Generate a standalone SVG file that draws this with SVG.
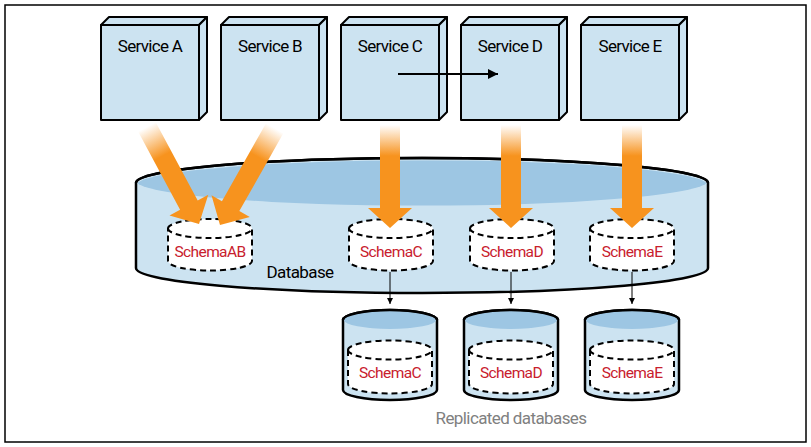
<svg xmlns="http://www.w3.org/2000/svg" width="811" height="447" viewBox="0 0 811 447">
<style>
.face{fill:#cce3f1;stroke:#000;stroke-width:2;stroke-linejoin:round}
.svc{font-family:Roboto,"Liberation Sans",Arial,sans-serif;font-size:17px;fill:#000;text-anchor:middle;letter-spacing:-0.7px}
.schema{font-family:Roboto,"Liberation Sans",Arial,sans-serif;font-size:15.5px;fill:#c8202d;text-anchor:middle;letter-spacing:-0.6px}
.lbl{font-family:Roboto,"Liberation Sans",Arial,sans-serif;font-size:17px;text-anchor:middle;letter-spacing:-0.6px}
.dash{fill:#fff;stroke:#000;stroke-width:2;stroke-dasharray:6 4}
.dashl{fill:none;stroke:#000;stroke-width:2;stroke-dasharray:6 4}
.side{fill:#cce3f1;stroke:#000;stroke-width:2.5}
.top{fill:#9dc6e3}
.oarrow{fill:url(#og)}
.thin{stroke:#000;stroke-width:1;fill:none}
</style>
<defs>
<linearGradient id="og" x1="0" y1="0" x2="0" y2="1">
<stop offset="0" stop-color="#f7931e" stop-opacity="0"/>
<stop offset="0.3" stop-color="#f7931e" stop-opacity="1"/>
<stop offset="1" stop-color="#f7931e" stop-opacity="1"/>
</linearGradient>
<marker id="sm" markerWidth="8" markerHeight="8" refX="6" refY="3" orient="auto" markerUnits="userSpaceOnUse">
<path d="M0,0 L6,3 L0,6 Z" fill="#000"/>
</marker>
<marker id="bm" markerWidth="12" markerHeight="12" refX="10" refY="5" orient="auto" markerUnits="userSpaceOnUse">
<path d="M0,0 L10,5 L0,10 Z" fill="#000"/>
</marker>
<path id="varrow" d="M-10,-103 L10,-103 L10,-20 L22,-20 L0,0 L-22,-20 L-10,-20 Z"/>
</defs>
<rect x="5" y="5" width="801" height="437" fill="#fff" stroke="#000" stroke-width="1.5"/>

<g id="svcA">
<polygon class="face" points="101,25 109,17 207,17 199,25"/>
<polygon class="face" points="199,25 207,17 207,112 199,120"/>
<rect class="face" x="101" y="25" width="98" height="95"/>
<text class="svc" x="150" y="52">Service A</text>
</g>
<g id="svcB">
<polygon class="face" points="221,25 229,17 327,17 319,25"/>
<polygon class="face" points="319,25 327,17 327,112 319,120"/>
<rect class="face" x="221" y="25" width="98" height="95"/>
<text class="svc" x="270" y="52">Service B</text>
</g>
<g id="svcC">
<polygon class="face" points="341,25 349,17 447,17 439,25"/>
<polygon class="face" points="439,25 447,17 447,112 439,120"/>
<rect class="face" x="341" y="25" width="98" height="95"/>
<text class="svc" x="390" y="52">Service C</text>
</g>
<g id="svcD">
<polygon class="face" points="461,25 469,17 567,17 559,25"/>
<polygon class="face" points="559,25 567,17 567,112 559,120"/>
<rect class="face" x="461" y="25" width="98" height="95"/>
<text class="svc" x="510" y="52">Service D</text>
</g>
<g id="svcE">
<polygon class="face" points="581,25 589,17 687,17 679,25"/>
<polygon class="face" points="679,25 687,17 687,112 679,120"/>
<rect class="face" x="581" y="25" width="98" height="95"/>
<text class="svc" x="630" y="52">Service E</text>
</g>

<g id="database">
<path class="side" d="M136,183 A286,25 0 0 1 708,183 L708,268 A286,25 0 0 1 136,268 Z"/>
<path class="top" d="M137.3,183 A286,25 0 0 1 706.7,183 A286,25 0 0 1 137.3,183 Z"/>
<path d="M136,183 A286,25 0 0 1 708,183" fill="none" stroke="#000" stroke-width="2.5"/>
<text class="lbl" x="300" y="278" fill="#000">Database</text>
</g>

<g id="schemaAB">
<path class="dash" d="M168,228.5 A42,9.5 0 0 1 252,228.5 L252,261 A42,9.5 0 0 1 168,261 Z"/>
<path class="dashl" d="M168,228.5 A42,9.5 0 0 0 252,228.5"/>
<text class="schema" x="210" y="257">SchemaAB</text>
</g>
<g id="schemaC">
<path class="dash" d="M349,228.5 A42,9.5 0 0 1 433,228.5 L433,261 A42,9.5 0 0 1 349,261 Z"/>
<path class="dashl" d="M349,228.5 A42,9.5 0 0 0 433,228.5"/>
<text class="schema" x="391" y="257">SchemaC</text>
</g>
<g id="schemaD">
<path class="dash" d="M470,228.5 A42,9.5 0 0 1 554,228.5 L554,261 A42,9.5 0 0 1 470,261 Z"/>
<path class="dashl" d="M470,228.5 A42,9.5 0 0 0 554,228.5"/>
<text class="schema" x="512" y="257">SchemaD</text>
</g>
<g id="schemaE">
<path class="dash" d="M590,228.5 A42,9.5 0 0 1 674,228.5 L674,261 A42,9.5 0 0 1 590,261 Z"/>
<path class="dashl" d="M590,228.5 A42,9.5 0 0 0 674,228.5"/>
<text class="schema" x="632" y="257">SchemaE</text>
</g>

<g id="replC">
<path class="side" d="M343,320 A47,10 0 0 1 437,320 L437,390 A47,10 0 0 1 343,390 Z"/>
<ellipse class="top" cx="390" cy="320" rx="46" ry="9"/>
<path d="M343,320 A47,10 0 0 1 437,320" fill="none" stroke="#000" stroke-width="2.5"/>
<path class="dash" d="M348,350 A42,9.5 0 0 1 432,350 L432,384 A42,9.5 0 0 1 348,384 Z"/>
<path class="dashl" d="M348,350 A42,9.5 0 0 0 432,350"/>
<text class="schema" x="390" y="378">SchemaC</text>
</g>
<g id="replD">
<path class="side" d="M464,320 A47,10 0 0 1 558,320 L558,390 A47,10 0 0 1 464,390 Z"/>
<ellipse class="top" cx="511" cy="320" rx="46" ry="9"/>
<path d="M464,320 A47,10 0 0 1 558,320" fill="none" stroke="#000" stroke-width="2.5"/>
<path class="dash" d="M469,350 A42,9.5 0 0 1 553,350 L553,384 A42,9.5 0 0 1 469,384 Z"/>
<path class="dashl" d="M469,350 A42,9.5 0 0 0 553,350"/>
<text class="schema" x="511" y="378">SchemaD</text>
</g>
<g id="replE">
<path class="side" d="M585,320 A47,10 0 0 1 679,320 L679,390 A47,10 0 0 1 585,390 Z"/>
<ellipse class="top" cx="632" cy="320" rx="46" ry="9"/>
<path d="M585,320 A47,10 0 0 1 679,320" fill="none" stroke="#000" stroke-width="2.5"/>
<path class="dash" d="M590,350 A42,9.5 0 0 1 674,350 L674,384 A42,9.5 0 0 1 590,384 Z"/>
<path class="dashl" d="M590,350 A42,9.5 0 0 0 674,350"/>
<text class="schema" x="632" y="378">SchemaE</text>
</g>

<text class="lbl" x="511" y="424" fill="#808080">Replicated databases</text>

<g id="connectors">
<use href="#varrow" class="oarrow" transform="translate(199,224) rotate(-28.2) scale(1,1.07)"/>
<use href="#varrow" class="oarrow" transform="translate(220,225) rotate(29.5) scale(1,1.08)"/>
<use href="#varrow" class="oarrow" transform="translate(390,228)"/>
<use href="#varrow" class="oarrow" transform="translate(511,228)"/>
<use href="#varrow" class="oarrow" transform="translate(632,228)"/>
<line x1="398" y1="74" x2="498" y2="74" stroke="#000" stroke-width="2" marker-end="url(#bm)"/>
<line class="thin" x1="390" y1="272" x2="390" y2="304" marker-end="url(#sm)"/>
<line class="thin" x1="511" y1="272" x2="511" y2="304" marker-end="url(#sm)"/>
<line class="thin" x1="632" y1="272" x2="632" y2="304" marker-end="url(#sm)"/>
</g>
</svg>
